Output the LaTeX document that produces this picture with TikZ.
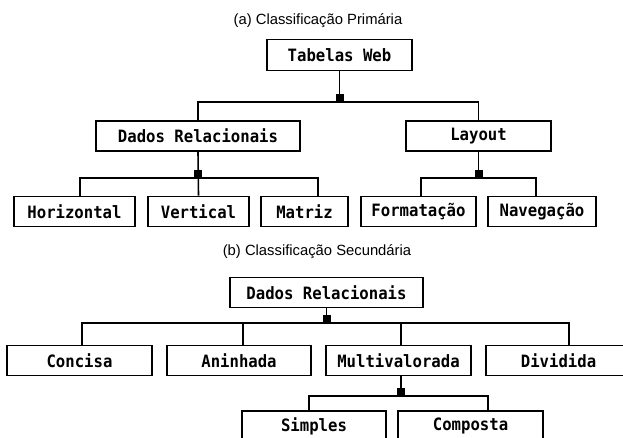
\documentclass[tikz,border=0pt]{standalone}
\usepackage{fontspec}
\setmainfont{Liberation Sans}
\newfontfamily\caixafont[FakeStretch=0.92]{DejaVu Sans Mono}
\usetikzlibrary{calc}

\begin{document}
\begin{tikzpicture}[x=1pt,y=-1pt,
	caixa/.style={draw,line width=1.7pt,inner sep=0pt,minimum height=30pt,font=\caixafont\bfseries\fontsize{17}{19}\selectfont},
	legenda/.style={font=\fontsize{14.8}{17}\selectfont},
	liga/.style={line width=1.6pt}]
		\useasboundingbox (0,0) rectangle (623,438);
		\clip (0,0) rectangle (623,438);
		\node[legenda] (capa) at (318,21) {(a) Classificação Primária};
		\node[caixa,minimum width=145pt,minimum height=31pt] (tw) at (339.5,55) {Tabelas Web};
		\node[caixa,minimum width=204pt] (dr) at (198,136) {Dados Relacionais};
		\node[caixa,minimum width=145pt] (lay) at (478.5,136) {Layout};
		\node[caixa,minimum width=121pt] (hor) at (74.5,211.5) {Horizontal};
		\node[caixa,minimum width=101pt] (ver) at (198.5,211.5) {Vertical};
		\node[caixa,minimum width=87pt] (mat) at (304.5,211.5) {Matriz};
		\node[caixa,minimum width=115pt] (fmt) at (418.5,211.5) {Formatação};
		\node[caixa,minimum width=108pt] (nav) at (542,211.5) {Navegação};
		\coordinate (ja) at (339.5,102);
		\coordinate (jb) at (198,178);
		\coordinate (jc) at (478.5,178);
		\coordinate (hb) at (80,178);
		\coordinate (mb) at (318,178);
		\coordinate (fb) at (421,178);
		\coordinate (nb) at (536,178);
		\draw[liga] (tw.south) -- (ja);
		\draw[liga] (dr.north) |- (ja) -| (lay.north);
		\draw[liga] (dr.south) -- (ver.north);
		\draw[liga] (hor.north -| hb) -- (hb) -- (mb) -- (mat.north -| mb);
		\draw[liga] (lay.south) -- (jc);
		\draw[liga] (fmt.north -| fb) -- (fb) -- (nb) -- (nav.north -| nb);
		\fill (ja) +(-4,0) rectangle +(4,-8);
		\fill (jb) +(-4,0) rectangle +(4,-8);
		\fill (jc) +(-4,0) rectangle +(4,-8);
		\node[legenda] (capb) at (317,252) {(b) Classificação Secundária};
		\node[caixa,minimum width=193pt] (dr2) at (326.5,292.5) {Dados Relacionais};
		\node[caixa,minimum width=145pt] (con) at (79.5,360.5) {Concisa};
		\node[caixa,minimum width=144pt] (ani) at (239,360.5) {Aninhada};
		\node[caixa,minimum width=145pt] (mul) at (398.5,360.5) {Multivalorada};
		\node[caixa,minimum width=145pt] (div) at (558.5,360.5) {Dividida};
		\node[caixa,minimum width=144pt] (sim) at (314,426) {Simples};
		\node[caixa,minimum width=145pt] (com) at (470.5,426) {Composta};
		\coordinate (jd) at (326.5,323);
		\coordinate (cb) at (82,323);
		\coordinate (ab) at (243,323);
		\coordinate (ub) at (401,323);
		\coordinate (db) at (569,323);
		\coordinate (je) at (401,396);
		\coordinate (sb) at (309,396);
		\coordinate (kb) at (488,396);
		\draw[liga] (dr2.south) -- (jd);
		\draw[liga] (con.north -| cb) -- (cb) -- (db) -- (div.north -| db);
		\draw[liga] (ani.north -| ab) -- (ab);
		\draw[liga] (mul.north -| ub) -- (ub);
		\draw[liga] (mul.south -| je) -- (je);
		\draw[liga] (sim.north -| sb) -- (sb) -- (kb) -- (com.north -| kb);
		\fill (jd) +(-4,0) rectangle +(4,-8);
		\fill (je) +(-4,0) rectangle +(4,-8);
\end{tikzpicture}
\end{document}
